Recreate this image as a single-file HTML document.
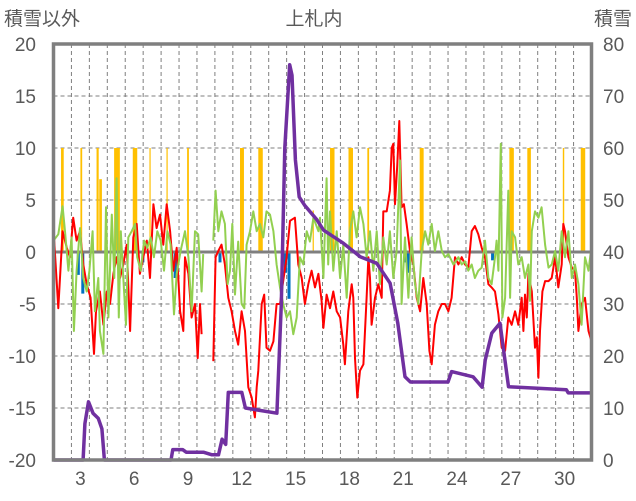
<!DOCTYPE html>
<html><head><meta charset="utf-8">
<style>
html,body{margin:0;padding:0;background:#fff;}
svg{display:block;font-family:"Liberation Sans","Noto Sans CJK JP",sans-serif;}
</style></head>
<body>
<svg id="chart" width="636" height="501" viewBox="0 0 636 501" xmlns="http://www.w3.org/2000/svg">
<text x="314" y="25" text-anchor="middle" font-size="19" fill="#595959">上札内</text>
<text x="4" y="25" font-size="19" fill="#595959">積雪以外</text>
<text x="632" y="25" text-anchor="end" font-size="19" fill="#595959">積雪</text>
<g id="grid"></g><g id="bars"></g><g id="lines"></g><g id="frame"></g><g id="ticks"></g>
</svg>
<script>
const leftTicks=[20,15,10,5,0,-5,-10,-15,-20];
const rightTicks=[80,70,60,50,40,30,20,10,0];
const dayLabels=[3,6,9,12,15,18,21,24,27,30];
const redT=[0,0.27,0.51,0.74,0.92,1.1,1.29,1.48,1.66,1.85,2.07,2.26,2.37,2.59,2.78,2.97,3.15,3.34,3.52,3.71,3.89,4.08,4.27,4.45,4.64,4.82,5.01,5.2,5.38,5.57,5.75,5.94,6.12,6.31,6.5,6.68,6.87,7.06,7.24,
7.33,7.52,7.7,7.89,8.04,8.17,8.26,8.91,9.04,9.19,9.37,9.56,9.75,9.93,10.12,10.3,10.49,10.68,10.86,11.05,11.23,11.33,11.42,11.61,11.75,11.88,12.07,12.26,12.44,12.63,12.81,13.0,13.19,13.46,13.65,13.84,14.02,14.21,14.39,14.58,14.77,14.95,
15.05,15.23,15.42,15.6,15.79,15.98,16.16,16.25,16.44,16.63,16.72,16.81,16.94,17.09,17.28,17.46,17.56,17.65,17.74,17.93,18.11,18.3,18.39,18.58,18.76,18.86,18.95,19.04,19.17,19.28,19.41,19.54,19.69,19.88,20.07,20.25,20.44,20.62,20.81,20.96,21.09,21.27,21.46,21.65,21.83,22.02,22.2,
22.39,22.58,22.76,22.95,23.13,23.32,23.5,23.69,23.88,24.06,24.25,24.43,24.62,24.81,24.99,25.18,25.36,25.55,25.74,25.92,26.11,26.2,26.29,26.39,26.48,26.67,26.85,26.95,27.04,27.13,27.26,27.41,27.6,27.78,27.97,28.15,28.34,28.43,28.52,28.71,28.9,29.08,29.18,29.27,29.45,29.64,29.83,30.0];
const redV=[2.2,-5.4,2.0,0.4,-0.5,3.3,1.1,2.0,-1.2,-3.1,-4.4,-9.8,-5.7,-3.8,-7,-3.8,-5.0,-2.1,-0.5,-2.5,-1.2,0.7,-7.6,1.4,2.7,-2.1,-0.5,1.1,-2.5,4.6,2.3,3.6,0.7,4.6,2.0,-1.8,0.4,-5.7,-7.6,
-0.5,-2.1,-6.3,-5.0,-10.2,-5.0,-7.9,-10.5,-0.5,0.1,0.7,-1.2,-4.4,-5.7,-7.6,-8.9,-5.7,-7.6,-13.0,-14.0,-15.9,-13.0,-11.4,-5.0,-4.1,-9.2,-9.5,-8.6,-5.0,-5.0,-2.8,-0.5,3.0,3.3,-1.2,-2.5,-5.0,-3.1,-1.8,-3.4,-2.1,-4.7,
-7.3,-4.1,-5.4,-3.8,-5.7,-6.3,-8.9,-10.8,-5.7,-3.1,-4.4,-10.2,-14.0,-11.4,-10.8,-4.4,-0.5,-2.5,-7.0,-4.4,-3.1,-4.4,3.9,3.9,5.9,10.0,10.4,4.6,8.4,12.6,4.3,4.6,2.7,0.1,-1.2,-4.4,-5.7,-2.5,-5.0,-9.5,-10.8,-7.0,-5.7,-5.0,-5.0,-5.7,-4.4,
-0.5,-1.2,-0.5,-1.2,-1.5,2.0,2.5,1.7,0.4,-0.5,-3.1,-3.4,-3.8,-6.0,-9.2,-9.5,-6.3,-7.0,-5.7,-7.0,-4.4,-7.6,-4.1,-6.3,-2.1,-3.8,-9.2,-8.2,-12.1,-7.6,-3.8,-2.8,-2.8,-2.5,-0.5,-3.4,-1.2,2.7,2.0,-0.5,-1.5,-1.8,-4.4,-7.6,-5.0,-4.4,-7.6,-8.6];
const greenT=[0,0.27,0.51,0.64,0.83,1.01,1.14,1.29,1.48,1.66,1.85,2.0,2.18,2.31,2.5,2.59,2.78,2.93,3.06,3.25,3.39,3.52,3.64,3.75,3.89,4.04,4.17,4.36,4.55,4.67,4.86,5.05,5.23,5.42,5.6,5.79,5.98,6.16,6.35,6.53,6.72,6.87,7.09,
7.33,7.52,7.7,7.89,8.07,8.26,8.35,8.91,9.04,9.19,9.37,9.56,9.71,9.84,9.97,10.12,10.3,10.49,10.64,10.77,10.96,11.14,11.33,11.51,11.7,11.88,12.07,12.26,12.44,12.63,12.81,13.0,13.19,13.37,13.56,13.74,13.93,14.12,14.3,14.49,14.77,
14.86,15.05,15.23,15.32,15.42,15.6,15.79,15.98,16.16,16.35,16.53,16.72,16.9,17.09,17.28,17.46,17.65,17.83,18.02,18.2,18.39,18.58,18.76,18.95,19.13,19.32,19.41,19.6,19.79,19.97,20.16,20.34,20.53,20.72,20.9,21.09,21.27,21.46,21.65,21.83,22.02,22.3,
22.58,22.76,22.95,23.13,23.32,23.5,23.69,23.88,24.06,24.25,24.43,24.62,24.71,24.81,24.94,25.03,25.18,25.36,25.46,25.55,25.74,25.92,26.11,26.29,26.48,26.57,26.67,26.85,27.04,27.22,27.41,27.6,27.78,27.97,28.15,28.34,28.52,28.71,28.9,29.08,29.27,29.45,29.64,29.83,30.01];
const greenV=[1.1,1.7,4.4,2.0,-1.8,1.4,-7.6,-1.8,2.3,-2.5,-3.8,-1.8,2.0,-5.7,-2.5,-7.6,-9.8,4.3,-6.3,3.6,-2.5,7.1,-6.3,2.0,-2.5,-7.0,1.4,2.0,2.7,-0.5,-1.8,1.1,0.4,1.4,-0.5,2.0,1.1,-1.8,2.0,0.7,-6.0,-2.1,0.1,
2.0,-0.5,-5.7,2.0,1.7,-3.8,-0.2,1.1,5.9,2.0,3.9,2.7,-3.1,-1.8,2.7,-4.1,1.0,-5.0,-5.4,0.7,2.0,3.9,2.0,2.7,1.4,3.9,3.6,2.0,-1.2,-3.4,-5.0,-6.3,-5.7,-7.9,-6.3,-0.5,-1.2,2.0,1.0,3.3,2.0,
3.3,-2.5,7.1,-1.2,3.9,-1.8,2.0,-2.5,0.7,-4.4,2.0,3.9,1.4,4.3,2.7,-0.5,2.0,-1.8,2.0,-3.1,1.4,-1.2,2.0,-2.5,0.1,8.8,-5.0,1.4,-4.4,1.4,-3.1,-5.0,0.1,2.0,0.7,2.7,0.1,2.0,0.1,-0.5,-0.2,-1.2,
-0.5,-1.2,-0.9,-1.8,-1.2,-2.5,-1.8,-1.5,1.1,-2.5,-3.1,-0.5,1.1,-1.8,10.4,-6.3,-4.4,5.9,-4.4,2.0,1.4,-1.2,-0.5,-2.5,-1.2,-4.7,2.0,3.9,3.3,4.3,0.7,-1.5,-1.2,0.1,-1.8,2.0,-0.5,2.0,-2.5,-1.2,-3.1,-7.0,-0.5,-1.8,0.7];
const snowT=[0,1.65,1.75,1.95,2.2,2.5,2.7,2.84,6.55,6.65,7.2,7.4,8.36,8.84,9.2,9.4,9.6,9.75,10.5,10.7,12.46,12.7,12.9,13.17,13.3,13.49,13.7,14.0,14.69,15.06,16.16,17.1,18.03,18.77,19.2,19.6,19.9,22.0,22.2,23.4,23.9,24.07,24.44,24.9,25.37,28.6,28.7,30];
const snowV=[0,0,7,11.2,9,8,6,0,0,2,2,1.5,1.5,1,1,4,3,13,13,10,9,30,60,76,74,57.7,50.6,49,46.2,44.2,41.7,39.1,37.8,34,26.3,16,15,15,17,16,14,19.2,24.4,26.3,14.1,13.5,12.9,12.9];
const yellowT=[0.42,1.5,2.4,2.55,3.38,3.55,4.42,5.35,6.3,7.45,10.4,11.42,14.45,15.42,16.45,17.5,20.42,25.42,26.42,28.4,29.4];
const yellowW=[0.15,0.1,0.12,0.15,0.3,0.15,0.25,0.05,0.05,0.1,0.22,0.25,0.05,0.25,0.25,0.1,0.22,0.25,0.2,0.08,0.25];
const yellowV=[10,10,10,7,10,10,10,10,10,10,10,10,4,10,10,10,10,10,10,10,10];
const blueT=[1.3,1.55,4.9,6.7,9.2,12.85,13.05,19.55,19.7,24.4];
const blueV=[-2.2,-4,-1,-2.5,-1,-2,-4.5,-1,-2,-0.8];

const L=53.5,R=591.5,T=44,B=460,ND=30;
const ns="http://www.w3.org/2000/svg";
const xs=t=>L+t/ND*(R-L);
const yl=v=>B-(v+20)/40*(B-T);
const yr=v=>B-v/80*(B-T);
function mk(tag,at,par){const e=document.createElementNS(ns,tag);for(const k in at)e.setAttribute(k,at[k]);document.getElementById(par).appendChild(e);return e;}
leftTicks.forEach(v=>{const y=yl(v);
 if(v!==0&&v!==20&&v!==-20){const g=mk('line',{x1:L,x2:R,y1:y,y2:y,stroke:'#7f7f7f','stroke-width':1,'stroke-dasharray':'4,3'},'grid');
 
 }
 const t=mk('text',{x:36,y:y+7,'text-anchor':'end','font-size':19,fill:'#595959'},'ticks');t.textContent=v;
 
 });
rightTicks.forEach(v=>{const t=mk('text',{x:603,y:yr(v)+7,'font-size':19,fill:'#595959'},'ticks');t.textContent=v;
 
 });
for(let d=1;d<ND;d++){const x=xs(d);const g=mk('line',{x1:x,x2:x,y1:T,y2:B,stroke:'#7f7f7f','stroke-width':1,'stroke-dasharray':'4,3'},'grid');
 
 }
dayLabels.forEach(d=>{const t=mk('text',{x:xs(d-1.5),y:485,'text-anchor':'middle','font-size':19,fill:'#595959'},'ticks');t.textContent=d;
 
 });
yellowT.forEach((t,i)=>{const y0=yl(0),y1=yl(yellowV[i]);const r=mk('rect',{x:xs(t),y:y1,width:Math.max(1.2,xs(t+yellowW[i])-xs(t)),height:y0-y1,fill:'#FFC000'},'bars');
 
 });
blueT.forEach((t,i)=>{const y0=yl(0),y1=yl(blueV[i]);const r=mk('rect',{x:xs(t),y:y0,width:3,height:y1-y0,fill:'#0070C0'},'bars');
 
 });
const zl=mk('line',{x1:L,x2:R,y1:yl(0),y2:yl(0),stroke:'#7f7f7f','stroke-width':3},'lines');


function path(T_,V_,fy,gapAt){let d='';T_.forEach((t,i)=>{const c=(i===0||(gapAt!==undefined&&T_[i-1]<gapAt&&t>gapAt))?'M':'L';d+=c+xs(t).toFixed(1)+','+fy(V_[i]).toFixed(1)+' ';});return d;}
const rp=mk('path',{d:path(redT,redV,yl,8.5),fill:'none',stroke:'#FF0000','stroke-width':2,'stroke-linejoin':'round'},'lines');


const gp=mk('path',{d:path(greenT,greenV,yl,8.6),fill:'none',stroke:'#92D050','stroke-width':2,'stroke-linejoin':'round'},'lines');


const sp=mk('path',{d:path(snowT,snowV,yr),fill:'none',stroke:'#7030A0','stroke-width':3.5,'stroke-linejoin':'round'},'lines');


const fr=mk('rect',{x:L,y:T,width:R-L,height:B-T,fill:'none',stroke:'#7f7f7f','stroke-width':3.5},'frame');


</script>
</body></html>
